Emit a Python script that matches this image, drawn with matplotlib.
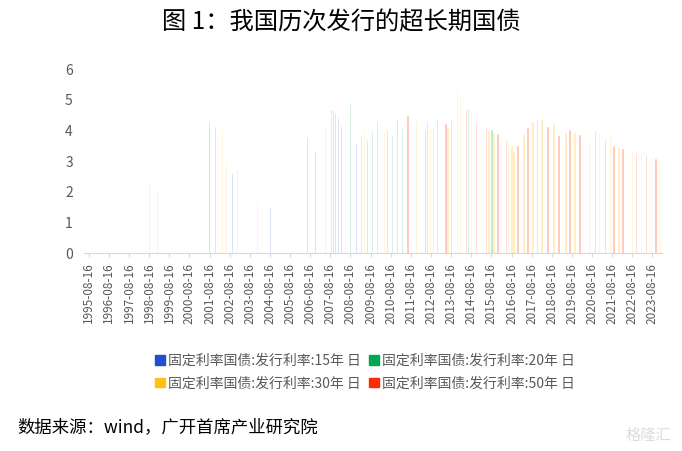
import matplotlib.pyplot as plt
from matplotlib.patches import Patch
import pandas as pd

plt.rcParams['font.family'] = ['Noto Sans CJK SC', 'DejaVu Sans']

# 发行日期与发行利率(%)，按期限分组
dates_15 = ['2001-08-10', '2002-09-25', '2004-08-15', '2006-06-20', '2006-11-15',
            '2007-10-05', '2007-11-10', '2008-01-05', '2008-11-28', '2009-06-18',
            '2012-05-05']
rates_15 = [4.27, 2.60, 1.50, 3.74, 3.28, 4.66, 4.55, 4.40, 3.58, 3.68, 4.00]

dates_20 = ['2001-11-20', '2007-08-28', '2008-02-28', '2008-08-12', '2009-03-01',
            '2009-09-15', '2010-09-12', '2011-03-15', '2013-08-20', '2014-06-25',
            '2015-08-18']
rates_20 = [4.10, 4.66, 4.13, 4.88, 3.80, 3.94, 3.80, 4.06, 4.33, 4.70, 4.00]

dates_30 = ['1998-08-10', '1999-01-05', '2002-03-28', '2002-06-10', '2002-12-28',
            '2003-12-25', '2007-05-15', '2008-05-10', '2009-04-22', '2010-04-20',
            '2011-11-20', '2012-08-05', '2012-09-28', '2013-06-10', '2013-12-05',
            '2014-01-30', '2014-08-18', '2015-06-25', '2015-09-25', '2016-06-20',
            '2016-08-15', '2016-09-20', '2017-03-22', '2017-09-01', '2018-02-10',
            '2018-09-15', '2019-04-22', '2019-10-01', '2020-06-15', '2020-12-15',
            '2021-07-01', '2021-12-10', '2022-08-05', '2023-01-15', '2023-07-15',
            '2023-12-25']
rates_30 = [2.28, 2.05, 4.00, 2.93, 2.80, 1.67, 4.17, 4.33, 4.00, 3.94,
            4.33, 4.06, 4.06, 4.10, 5.30, 5.00, 4.60, 3.97, 3.92, 3.60,
            3.50, 3.30, 3.88, 4.27, 4.33, 4.23, 3.90, 3.90, 3.70, 3.90,
            3.80, 3.42, 3.32, 3.26, 3.10, 2.97]

dates_50 = ['2009-12-15', '2010-06-15', '2010-12-15', '2011-06-15', '2012-06-10',
            '2012-12-10', '2013-05-05', '2014-05-18', '2014-11-15', '2015-05-18',
            '2015-12-05', '2016-05-15', '2016-12-01', '2017-06-01', '2017-11-28',
            '2018-05-30', '2018-12-15', '2019-07-05', '2020-01-01', '2020-10-01',
            '2021-04-01', '2021-09-10', '2022-02-20', '2022-10-15', '2023-04-15',
            '2023-10-12']
rates_50 = [4.27, 4.00, 4.36, 4.46, 4.27, 4.33, 4.20, 4.70, 4.27, 4.07,
            3.88, 3.68, 3.50, 4.07, 4.33, 4.10, 3.80, 4.00, 3.84, 4.00,
            3.70, 3.50, 3.40, 3.26, 3.20, 3.05]

labels = ['固定利率国债:发行利率:15年 日', '固定利率国债:发行利率:20年 日',
          '固定利率国债:发行利率:30年 日', '固定利率国债:发行利率:50年 日']
colors = ['#1f4fcc', '#00a651', '#ffc20e', '#ff2a00']
tick_years = list(range(1995, 2024))

fig = plt.figure(figsize=(6.82, 4.51), dpi=100)
ax = fig.add_axes([0.123, 0.439, 0.848, 0.408])

series = [(dates_15, rates_15), (dates_20, rates_20), (dates_30, rates_30), (dates_50, rates_50)]
for (d, r), c in zip(series, colors):
    ax.bar(pd.to_datetime(d), r, width=3, color=c, edgecolor=c, linewidth=0.5, alpha=0.22)

ax.set_ylim(0, 6)
ax.set_yticks(range(7))
ax.set_xlim(pd.Timestamp('1995-05-20'), pd.Timestamp('2024-02-10'))
ticks = [pd.Timestamp(f'{y}-08-16') for y in tick_years]
ax.set_xticks(ticks)
ax.set_xticklabels([t.strftime('%Y-%m-%d') for t in ticks], rotation=90)

for s in ['top', 'right', 'left']:
    ax.spines[s].set_visible(False)
ax.spines['bottom'].set_color('#d9d9d9')
ax.tick_params(axis='y', length=0, labelsize=10, colors='#595959', pad=8)
ax.tick_params(axis='x', length=3, color='#d9d9d9', labelsize=8.5, labelcolor='#595959', pad=4)

# 图例按行排列：15年、20年 / 30年、50年
order = [0, 2, 1, 3]
handles = [Patch(color=colors[i]) for i in order]
leg = fig.legend(handles, [labels[i] for i in order], loc='center',
                 bbox_to_anchor=(0.535, 0.175), ncol=2, frameon=False, fontsize=10,
                 handlelength=0.7, handleheight=0.7, handletextpad=0.2,
                 columnspacing=0.6, labelspacing=0.6)
for t in leg.get_texts():
    t.set_color('#595959')

fig.text(0.5, 0.95, '图 1：我国历次发行的超长期国债', ha='center', va='center', fontsize=17.5)
fig.text(0.026, 0.053, '数据来源：wind，广开首席产业研究院', ha='left', va='center', fontsize=12.5)
fig.text(0.985, 0.035, '格隆汇', ha='right', va='center', fontsize=11, color='#dddddd')

fig.savefig('out.png', dpi=100)
